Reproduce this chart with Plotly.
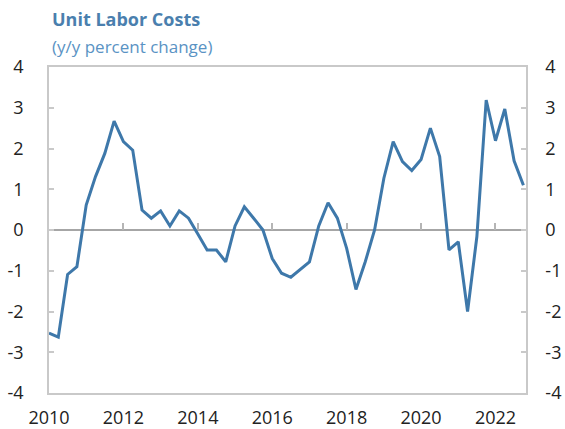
import plotly.graph_objs as go

# quarterly, 2010Q1 .. 2022Q4
start_year = 2010
ulc_yoy = [
    -2.53, -2.63, -1.09, -0.90, 0.61, 1.31, 1.88, 2.67,
    2.17, 1.96, 0.49, 0.29, 0.47, 0.10, 0.47, 0.29,
    -0.10, -0.49, -0.49, -0.78, 0.10, 0.57, 0.29, 0.00,
    -0.70, -1.06, -1.16, -0.98, -0.78, 0.10, 0.67, 0.29,
    -0.45, -1.46, -0.78, 0.00, 1.27, 2.17, 1.68, 1.46,
    1.73, 2.50, 1.80, -0.49, -0.29, -2.00, -0.16, 3.19,
    2.19, 2.97, 1.70, 1.10,
]
year_ticks = [2010, 2012, 2014, 2016, 2018, 2020, 2022]
y_ticks = [-4, -3, -2, -1, 0, 1, 2, 3, 4]
# plain hyphen minus signs, as in the source chart
y_tick_text = [str(v) for v in y_ticks]

quarters = [start_year + i / 4 for i in range(len(ulc_yoy))]

line_color = "#3e78aa"
frame_color = "#c9c9c9"
font_family = "Open Sans"
x_range = [2010, 2022.82]
y_range = [-4, 4]

trace_data = go.Scatter(
    x=quarters,
    y=ulc_yoy,
    mode="lines",
    line=dict(color=line_color, width=3),
    showlegend=False,
    hoverinfo="x+y",
)
# invisible copy so the extra axes get drawn
tick_carrier = go.Scatter(
    x=quarters, y=ulc_yoy, xaxis="x2", yaxis="y2",
    mode="lines", line=dict(width=0), showlegend=False, hoverinfo="skip",
)

layout = go.Layout(
    width=565,
    height=429,
    plot_bgcolor="white",
    paper_bgcolor="white",
    font=dict(family=font_family, size=18, color="#222222"),
    margin=dict(l=49, r=39, t=67, b=36, autoexpand=False),
    xaxis=dict(
        range=x_range,
        tickvals=year_ticks,
        ticktext=[str(y) for y in year_ticks],
        ticks="",
        showgrid=False,
        zeroline=False,
        showline=True,
        linecolor=frame_color,
        linewidth=1.5,
        mirror=True,
        automargin=False,
        ticklabelstandoff=8,
    ),
    # tick marks sitting on the zero line
    xaxis2=dict(
        range=x_range,
        overlaying="x",
        anchor="free",
        position=0.5,
        side="bottom",
        tickvals=year_ticks,
        showticklabels=False,
        ticks="inside",
        ticklen=7,
        tickwidth=1.5,
        tickcolor="#b5b5b5",
        showgrid=False,
        zeroline=False,
        showline=False,
        automargin=False,
    ),
    yaxis=dict(
        range=y_range,
        tickvals=y_ticks,
        ticktext=y_tick_text,
        ticks="inside",
        ticklen=5,
        tickwidth=1.5,
        tickcolor=frame_color,
        showgrid=False,
        zeroline=True,
        zerolinecolor="#a6a6a6",
        zerolinewidth=1.5,
        showline=True,
        linecolor=frame_color,
        linewidth=1.5,
        ticklabelstandoff=20,
        automargin=False,
    ),
    yaxis2=dict(
        range=y_range,
        overlaying="y",
        side="right",
        tickvals=y_ticks,
        ticktext=y_tick_text,
        ticks="inside",
        ticklen=5,
        tickwidth=1.5,
        tickcolor=frame_color,
        showgrid=False,
        zeroline=False,
        showline=True,
        linecolor=frame_color,
        linewidth=1.5,
        ticklabelstandoff=14,
        automargin=False,
    ),
    annotations=[
        dict(
            text="<b>Unit Labor Costs</b>",
            xref="paper", yref="paper", x=0.0, y=1.0,
            xanchor="left", yanchor="middle", yshift=48, xshift=1,
            showarrow=False,
            font=dict(family=font_family, size=18, color="#4a7fae"),
        ),
        dict(
            text="(y/y percent change)",
            xref="paper", yref="paper", x=0.0, y=1.0,
            xanchor="left", yanchor="middle", yshift=21, xshift=1,
            showarrow=False,
            font=dict(family=font_family, size=17, color="#5a93c4"),
        ),
    ],
)

fig = go.Figure(data=[trace_data, tick_carrier], layout=layout)
# page body has a default 8px margin; drop it so the figure fills the window
fig.write_html(
    "out.html",
    config={"displayModeBar": False},
    post_script="document.body.style.margin='0';",
)
